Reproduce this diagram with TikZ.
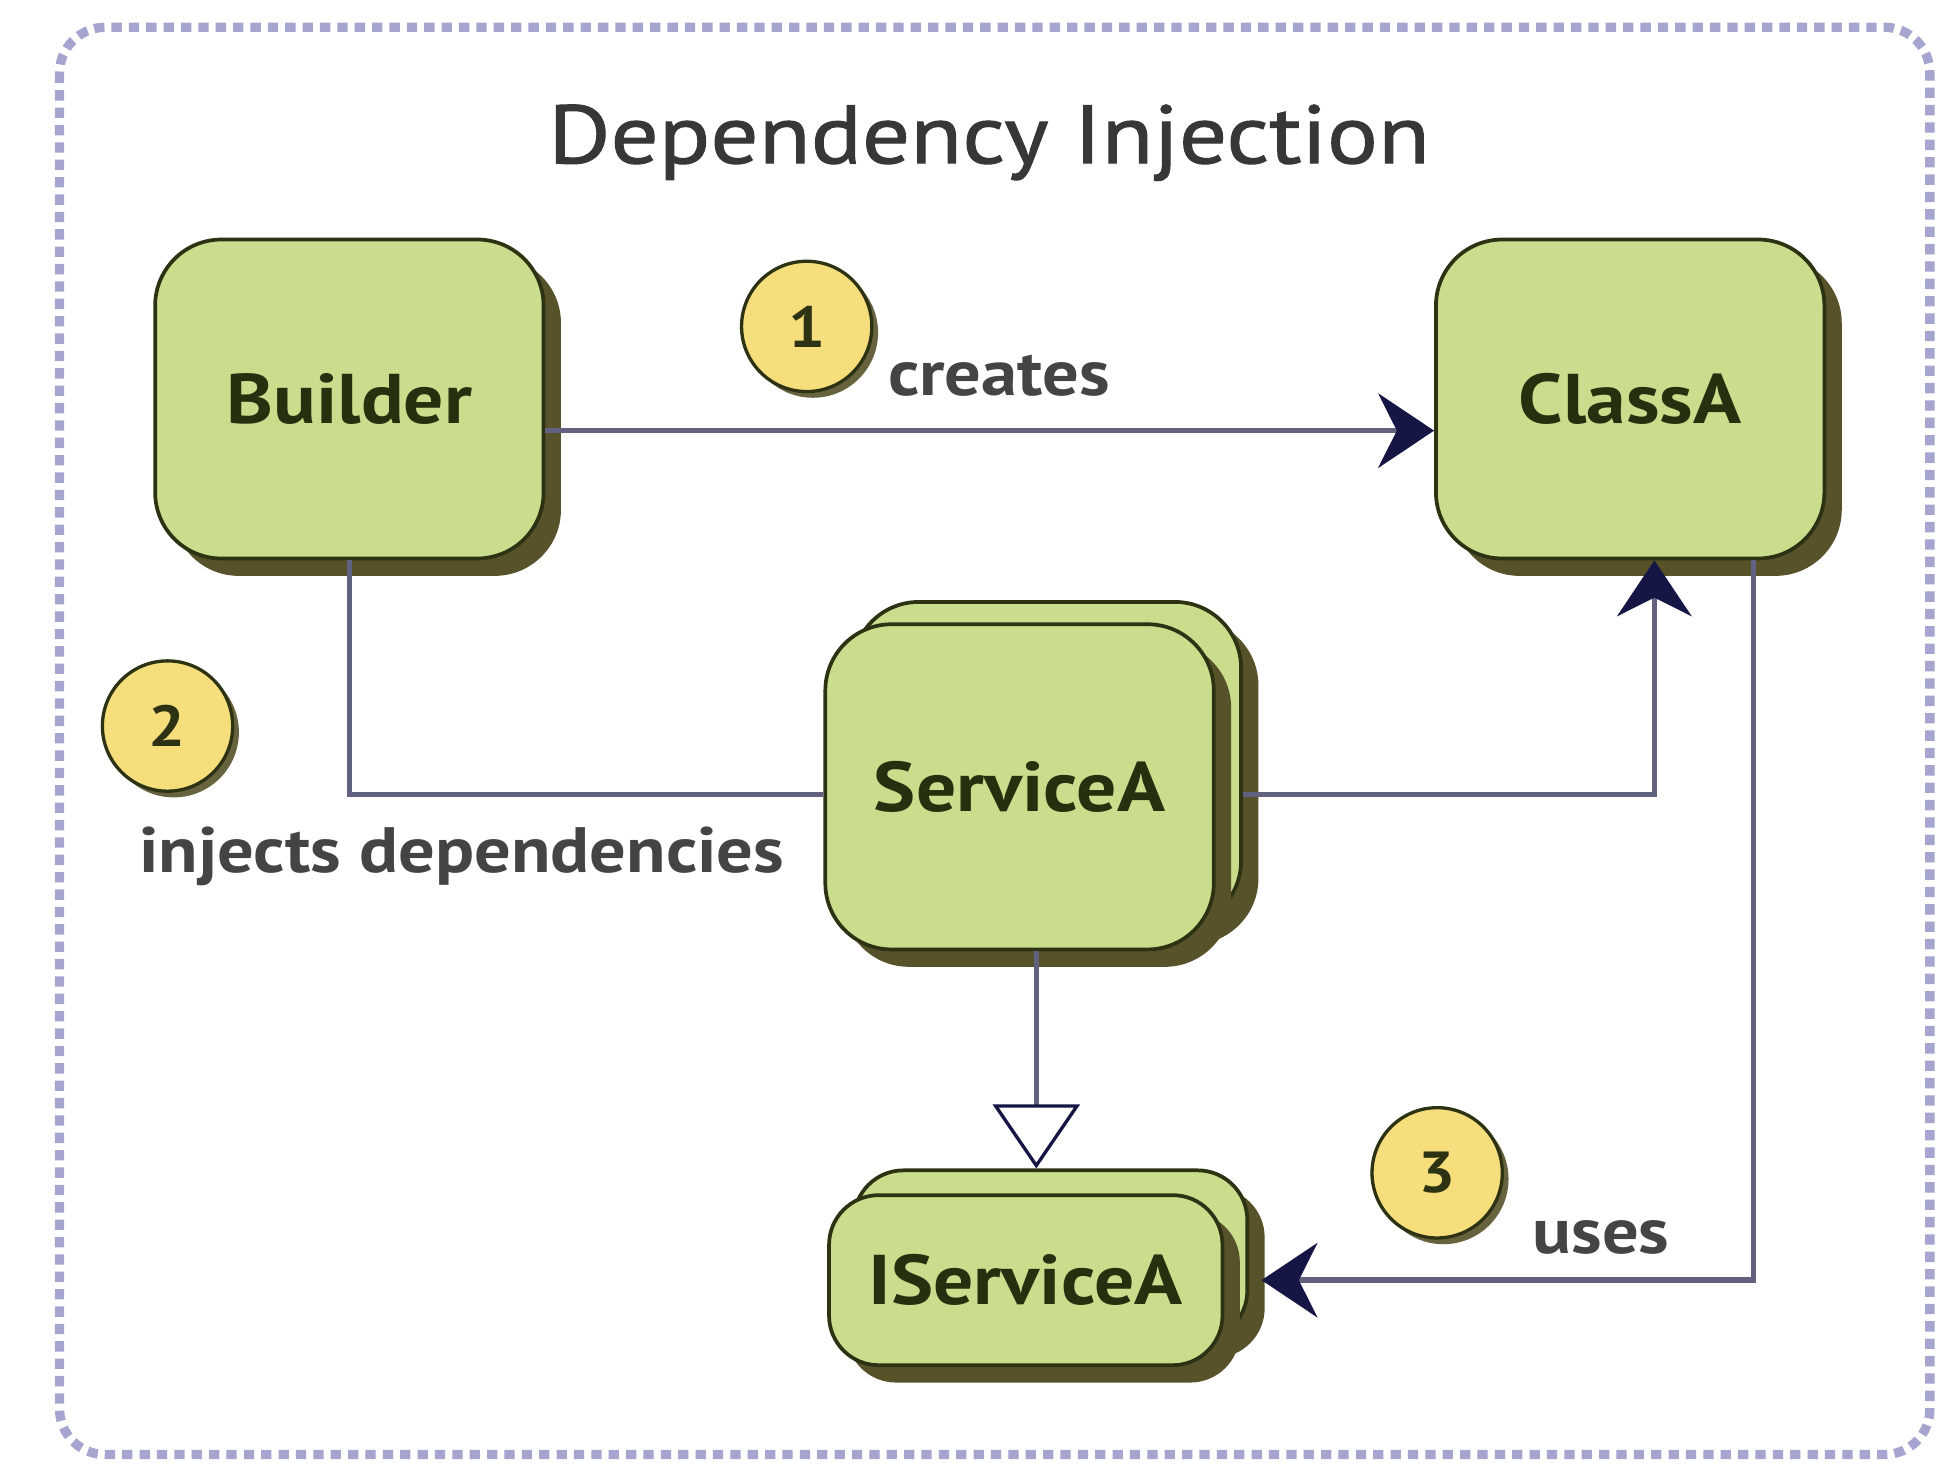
\documentclass[tikz,border=0pt]{standalone}
\usepackage{fontspec}
\setmainfont{PT Sans}[FakeStretch=1.13]
\newfontfamily\titlefont{PT Sans}[FakeStretch=1.15, FakeBold=1.2]
\usetikzlibrary{shadows,arrows.meta}

\definecolor{boxfill}{RGB}{201,221,141}
\definecolor{boxdraw}{RGB}{45,50,18}
\definecolor{boxshadow}{RGB}{88,82,42}
\definecolor{boxtext}{RGB}{38,48,14}
\definecolor{circfill}{RGB}{246,222,125}
\definecolor{linecol}{RGB}{98,98,128}
\definecolor{headcol}{RGB}{22,22,68}
\definecolor{labcol}{RGB}{68,68,68}
\definecolor{titlecol}{RGB}{55,55,55}
\definecolor{framecol}{RGB}{165,165,208}

\begin{document}
\begin{tikzpicture}[x=0.6pt,y=-0.6pt,
  cls/.style={draw=boxdraw, line width=1.8pt, fill=boxfill, rounded corners=32pt,
    inner sep=0pt, text=boxtext, font=\fontsize{34}{40}\selectfont\bfseries,
    drop shadow={shadow xshift=8.4pt, shadow yshift=-8.4pt, fill=boxshadow, opacity=1}},
  smallcls/.style={cls, rounded corners=24pt},
  badge/.style={circle, draw=boxdraw, line width=1.6pt, fill=circfill, inner sep=0pt,
    minimum size=63pt, text=boxdraw, font=\fontsize{28}{32}\selectfont\bfseries,
    drop shadow={shadow xshift=3pt, shadow yshift=-3pt, fill=boxshadow, opacity=0.9}},
  lab/.style={text=labcol, inner sep=0pt, font=\fontsize{31}{36}\selectfont\bfseries},
  titlestyle/.style={text=titlecol, inner sep=0pt, font=\titlefont\fontsize{40}{46}\selectfont},
  conn/.style={draw=linecol, line width=2.6pt},
  filledhead/.style={-{Stealth[length=27pt,width=36pt,inset=9pt,color=headcol]}},
  openhead/.style={-{Triangle[open,length=31pt,width=42pt,fill=white,color=headcol,line width=1.6pt]}},
  frame/.style={draw=framecol, line width=4.5pt, dash pattern=on 5pt off 3.4pt, rounded corners=22pt}
]
\useasboundingbox (0,0) rectangle (1568,1185);

% outer frame
\draw[frame] (48,22) rectangle (1555,1172);

% title
\node[titlestyle] (title) at (797,115) {Dependency Injection};

% classes
\node[cls, minimum width=187.8pt, minimum height=154.2pt] (builder) at (281.5,321.5) {Builder};
\node[cls, minimum width=187.8pt, minimum height=154.2pt] (classa) at (1313.5,321.5) {ClassA};

\node[cls, minimum width=187.8pt, minimum height=157.2pt] (svcback) at (843.5,616) {};
\node[cls, minimum width=187.8pt, minimum height=157.2pt] (svc) at (821.5,634) {ServiceA};

\node[smallcls, minimum width=190.2pt, minimum height=82.2pt] (isvcback) at (846.5,1011.5) {};
\node[smallcls, minimum width=190.2pt, minimum height=82.2pt] (isvc) at (826.5,1031.5) {IServiceA};

% helper coordinates
\coordinate (bstart) at ([yshift=-15.3pt]builder.east);
\coordinate (cend) at ([yshift=-15.3pt]classa.west);
\coordinate (svin) at ([yshift=-3.6pt]svc.west);
\coordinate (svout) at ([yshift=-14.4pt]svcback.east);
\coordinate (cin) at ([xshift=11.7pt]classa.south);
\coordinate (cout) at ([xshift=59.7pt]classa.south);
\coordinate (isin) at ([xshift=18pt]isvc.east);
\coordinate (sbot) at ([xshift=8.1pt]svc.south);

% connectors
\draw[conn, filledhead] (bstart) -- (cend);
\draw[conn] (builder.south) |- (svin);
\draw[conn, filledhead] (svout) -| (cin);
\draw[conn, openhead] (sbot) -- (sbot |- isvcback.north);
\draw[conn, filledhead] (cout) |- (isin);

% badges and labels
\node[badge] (n1) at (650,263) {1};
\node[lab] (creates) at (805,303) {creates};
\node[badge] (n2) at (135,585) {2};
\node[lab] (injects) at (372,690) {injects dependencies};
\node[badge] (n3) at (1158,945) {3};
\node[lab] (uses) at (1290,997) {uses};
\end{tikzpicture}
\end{document}
